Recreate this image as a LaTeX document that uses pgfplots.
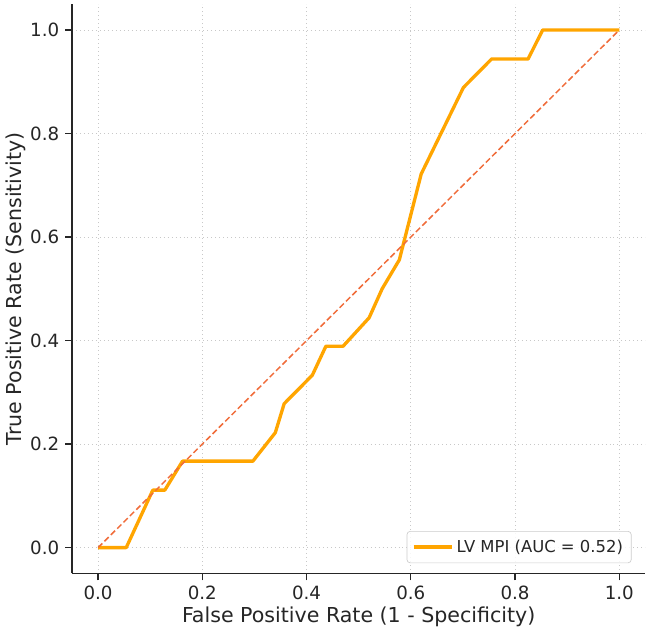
\documentclass[border=0pt]{standalone}
\usepackage{pgfplots}
\pgfplotsset{compat=1.18}
\usepackage{fontspec}
\setmainfont{DejaVu Sans}

\definecolor{roccurve}{RGB}{255,165,0}
\definecolor{chanceline}{RGB}{240,108,58}
\definecolor{gridgray}{RGB}{200,200,200}

% ROC operating points (FPR, TPR)
\pgfplotstableread{
fpr    tpr
0.000  0.000
0.054  0.000
0.105  0.111
0.128  0.111
0.162  0.167
0.297  0.167
0.340  0.222
0.357  0.278
0.411  0.333
0.437  0.389
0.470  0.389
0.520  0.444
0.545  0.500
0.578  0.556
0.620  0.722
0.701  0.889
0.755  0.944
0.825  0.944
0.853  1.000
1.000  1.000
}\rocdata

\begin{document}
\begin{tikzpicture}
\begin{axis}[
  name=roc,
  scale only axis,
  width=345.6pt, height=343.2pt,
  xmin=-0.05, xmax=1.05, ymin=-0.05, ymax=1.05,
  axis lines*=left,
  axis line style={line width=0.8pt, black!85},
  xtick={0,0.2,0.4,0.6,0.8,1.0},
  ytick={0,0.2,0.4,0.6,0.8,1.0},
  /pgf/number format/assume math mode=true,
  /pgf/number format/.cd, fixed, fixed zerofill, precision=1, /pgfplots/.cd,
  tick align=outside,
  major tick length=4.2pt,
  tick style={line width=0.8pt, black!85},
  grid=major,
  grid style={gridgray, dotted, line width=0.6pt},
  tick label style={font=\fontsize{11}{13}\selectfont, black!85},
  label style={font=\fontsize{12.4}{15}\selectfont, black!85},
  xlabel={False Positive Rate (1 - Specificity)},
  ylabel={True Positive Rate (Sensitivity)},
  xlabel style={yshift=3pt},
  ylabel style={yshift=-4pt},
  legend style={
    at={(0.976,0.018)}, anchor=south east,
    draw=gray!40, rounded corners=2pt, fill=white, fill opacity=0.85, text opacity=1,
    font=\fontsize{9.9}{12}\selectfont, text=black!85,
    inner xsep=3pt, inner ysep=3pt,
  },
  legend cell align=left,
  legend image code/.code={\draw[#1] (0pt,0pt) -- (23pt,0pt);},
]
\addplot[roccurve, line width=2pt, line join=round] table[x=fpr, y=tpr] {\rocdata};
\addlegendentry{LV MPI (AUC = 0.52)}
\addplot[chanceline, line width=0.9pt, dash pattern=on 3.6pt off 1.8pt, forget plot]
  coordinates {(0,0) (1,1)};
\end{axis}
% a little white space above the plot area
\path ([yshift=2.5pt]roc.north);
\end{tikzpicture}
\end{document}
